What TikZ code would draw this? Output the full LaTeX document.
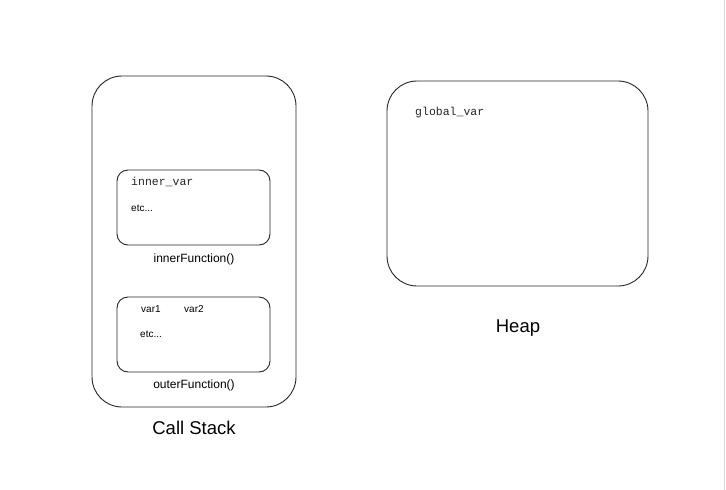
\documentclass[tikz,border=0pt]{standalone}
\usepackage{fontspec}
\setmainfont{Liberation Sans}
\newfontfamily\monof{Liberation Mono}
\begin{document}
\begin{tikzpicture}[x=1pt,y=-1pt,
  bigbox/.style={draw=black!85,line width=0.9pt,rounded corners=30pt},
  framebox/.style={draw=black!85,line width=0.9pt,rounded corners=11pt},
  small/.style={font=\fontsize{10}{12}\selectfont,anchor=west,inner sep=0pt},
  mono/.style={font=\monof\fontsize{11.5}{13}\selectfont,anchor=west,inner sep=0pt,text=black!85},
  caption/.style={font=\fontsize{12}{14}\selectfont,inner sep=0pt},
  title/.style={font=\fontsize{18.5}{22}\selectfont,inner sep=0pt}]
\useasboundingbox (0,0) rectangle (726,490);
\fill[white] (0,0) rectangle (726,490);
\draw[black!15,line width=1.2pt] (724.5,0) -- (724.5,490);
% call stack
\draw[bigbox] (92,76) rectangle (296,407);
\node[coordinate] (cs) at (194,241) {};
\draw[framebox] (117,170) rectangle (270,245);
\node[mono] (iv) at (131,181.5) {inner\_var};
\node[small] (ie) at (131,208) {etc...};
\node[caption] (if) at (194,259) {innerFunction()};
\draw[framebox] (117,297) rectangle (270,372);
\node[small] (v1) at (141,309) {var1};
\node[small] (v2) at (184,309) {var2};
\node[small] (oe) at (140,334) {etc...};
\node[caption] (of) at (194,385) {outerFunction()};
\node[title] (cst) at (194,428) {Call Stack};
% heap
\draw[bigbox] (387,81) rectangle (648,286);
\node[mono] (gv) at (415,112.5) {global\_var};
\node[title] (hp) at (518,328) {Heap};
\end{tikzpicture}
\end{document}
